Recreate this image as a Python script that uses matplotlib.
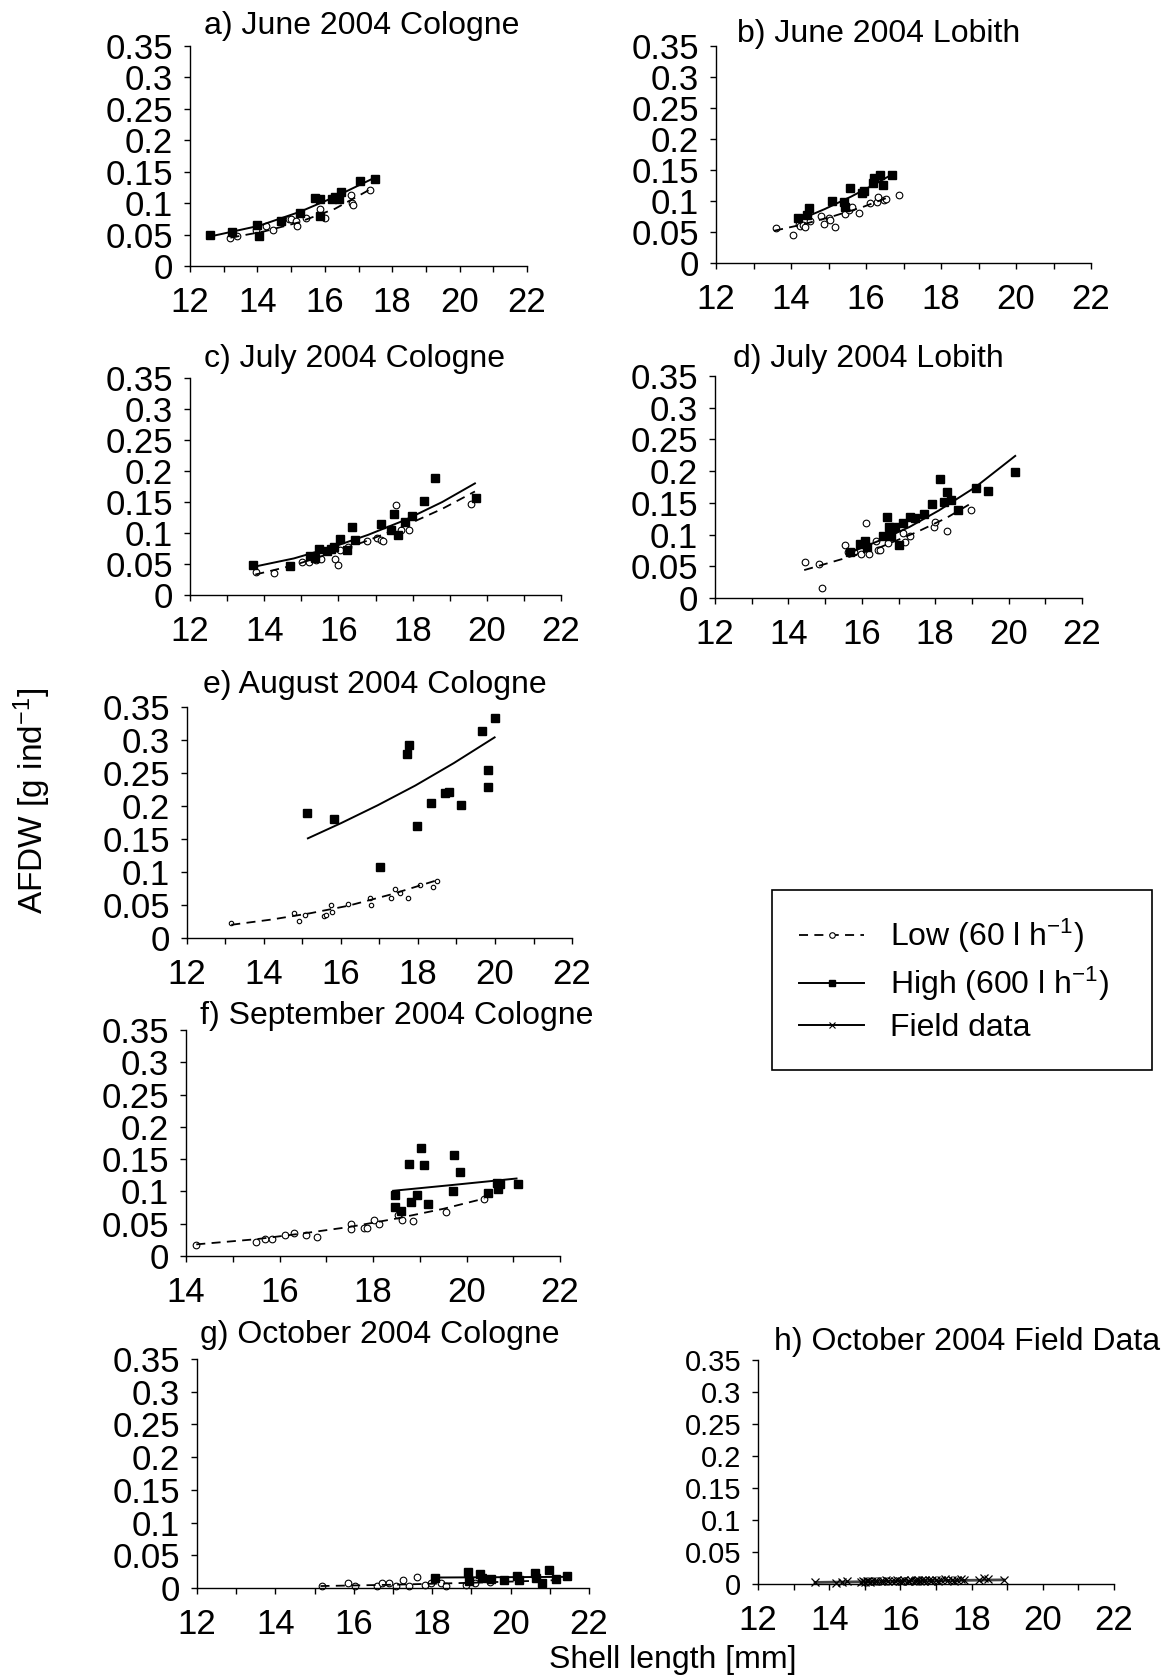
import matplotlib.pyplot as plt
from matplotlib.lines import Line2D

plt.rcParams['font.family'] = ['Liberation Sans', 'DejaVu Sans']
plt.rcParams['mathtext.fontset'] = 'custom'
plt.rcParams['mathtext.rm'] = 'Liberation Sans'
plt.rcParams['mathtext.it'] = 'Liberation Sans:italic'

W, H = 1167, 1676

# ---- a) June 2004 Cologne ----
a_low_x = [13.2, 13.38, 13.95, 14.25, 14.45, 14.95, 15.0, 15.15, 15.17, 15.45, 15.87, 16.0, 16.78, 16.8, 16.83, 17.35]
a_low_y = [0.045, 0.048, 0.057, 0.064, 0.058, 0.075, 0.074, 0.072, 0.064, 0.076, 0.091, 0.077, 0.113, 0.100, 0.097, 0.121]
a_high_x = [12.6, 13.25, 14.0, 14.05, 14.7, 15.27, 15.7, 15.85, 15.85, 16.2, 16.3, 16.43, 16.47, 17.05, 17.48]
a_high_y = [0.050, 0.054, 0.065, 0.047, 0.072, 0.085, 0.108, 0.106, 0.080, 0.106, 0.110, 0.107, 0.117, 0.136, 0.139]
a_lowfit_x = [13.2, 14.2, 15.2, 16.3, 17.35]
a_lowfit_y = [0.045, 0.055, 0.069, 0.091, 0.122]
a_highfit_x = [12.6, 14.05, 15.25, 16.3, 17.5]
a_highfit_y = [0.047, 0.064, 0.086, 0.110, 0.141]

# ---- b) June 2004 Lobith ----
b_low_x = [13.6, 14.05, 14.2, 14.25, 14.33, 14.38, 14.5, 14.8, 14.87, 15.0, 15.05, 15.17, 15.45, 15.55,
           15.63, 15.8, 16.1, 16.3, 16.33, 16.48, 16.52, 16.87]
b_low_y = [0.057, 0.045, 0.063, 0.060, 0.061, 0.058, 0.068, 0.076, 0.063, 0.072, 0.070, 0.058, 0.079, 0.085,
           0.091, 0.081, 0.097, 0.098, 0.106, 0.102, 0.104, 0.110]
b_high_x = [14.18, 14.42, 14.47, 15.08, 15.42, 15.45, 15.58, 15.9, 15.95, 16.18, 16.2, 16.37, 16.45, 16.68]
b_high_y = [0.073, 0.078, 0.089, 0.100, 0.099, 0.091, 0.121, 0.113, 0.116, 0.129, 0.137, 0.142, 0.126, 0.142]
b_lowfit_x = [13.55, 14.3, 15.1, 15.9, 16.6]
b_lowfit_y = [0.052, 0.062, 0.075, 0.090, 0.106]
b_highfit_x = [14.2, 14.9, 15.6, 16.2, 16.7]
b_highfit_y = [0.069, 0.087, 0.107, 0.126, 0.143]

# ---- c) July 2004 Cologne ----
c_low_x = [13.78, 14.27, 15.02, 15.22, 15.39, 15.53, 15.9, 15.98, 16.03, 16.27, 16.77, 17.03, 17.16, 17.21,
           17.56, 17.7, 17.9, 19.58]
c_low_y = [0.037, 0.035, 0.054, 0.054, 0.056, 0.058, 0.058, 0.049, 0.073, 0.078, 0.087, 0.092, 0.089, 0.087,
           0.145, 0.105, 0.105, 0.146]
c_high_x = [13.71, 14.7, 15.24, 15.36, 15.48, 15.68, 15.8, 15.88, 16.05, 16.23, 16.38, 16.45, 17.16, 17.41,
            17.49, 17.61, 17.8, 17.98, 18.3, 18.6, 19.7]
c_high_y = [0.048, 0.047, 0.063, 0.060, 0.074, 0.071, 0.074, 0.078, 0.091, 0.073, 0.110, 0.088, 0.115, 0.105,
            0.131, 0.096, 0.118, 0.128, 0.152, 0.189, 0.156]
c_lowfit_x = [13.76, 14.8, 15.83, 16.8, 17.8, 18.8, 19.68]
c_lowfit_y = [0.033, 0.048, 0.068, 0.088, 0.112, 0.139, 0.167]
c_highfit_x = [13.76, 14.8, 15.83, 16.8, 17.8, 18.8, 19.68]
c_highfit_y = [0.046, 0.059, 0.077, 0.097, 0.121, 0.150, 0.180]

# ---- d) July 2004 Lobith ----
d_low_x = [14.45, 14.83, 14.91, 15.53, 15.63, 15.78, 15.97, 16.11, 16.19, 16.4, 16.45, 16.5, 16.72, 17.11,
           17.17, 17.31, 17.98, 18.0, 18.31, 18.98]
d_low_y = [0.057, 0.054, 0.015, 0.083, 0.072, 0.072, 0.070, 0.119, 0.069, 0.090, 0.075, 0.075, 0.087, 0.102,
           0.088, 0.098, 0.112, 0.120, 0.105, 0.139]
d_high_x = [15.68, 15.94, 16.09, 16.14, 16.58, 16.68, 16.75, 16.79, 16.91, 17.01, 17.11, 17.31, 17.44, 17.7,
            17.9, 18.13, 18.23, 18.31, 18.43, 18.63, 19.11, 19.45, 20.18]
d_high_y = [0.072, 0.085, 0.090, 0.081, 0.098, 0.127, 0.112, 0.098, 0.112, 0.083, 0.118, 0.128, 0.126, 0.133,
            0.148, 0.187, 0.151, 0.167, 0.154, 0.138, 0.174, 0.169, 0.199]
d_lowfit_x = [14.43, 15.5, 16.5, 17.5, 18.3, 19.0]
d_lowfit_y = [0.044, 0.062, 0.080, 0.104, 0.126, 0.150]
d_highfit_x = [15.7, 16.5, 17.3, 18.1, 19.1, 20.18]
d_highfit_y = [0.072, 0.091, 0.112, 0.138, 0.175, 0.224]

# ---- e) August 2004 Cologne ----
e_low_x = [13.15, 14.77, 14.91, 15.07, 15.56, 15.6, 15.74, 15.77, 16.17, 16.75, 16.78, 17.3, 17.4, 17.53,
           17.74, 18.05, 18.38, 18.5]
e_low_y = [0.023, 0.038, 0.026, 0.035, 0.033, 0.035, 0.050, 0.039, 0.052, 0.061, 0.050, 0.061, 0.074, 0.068,
           0.060, 0.081, 0.078, 0.087]
e_high_x = [15.11, 15.83, 17.02, 17.72, 17.76, 17.98, 18.34, 18.7, 18.81, 19.11, 19.65, 19.81, 19.81, 19.99]
e_high_y = [0.189, 0.181, 0.107, 0.279, 0.292, 0.169, 0.204, 0.220, 0.221, 0.201, 0.314, 0.255, 0.229, 0.333]
e_lowfit_x = [13.15, 14.2, 15.2, 16.2, 17.3, 18.52]
e_lowfit_y = [0.020, 0.028, 0.0375, 0.049, 0.066, 0.088]
e_highfit_x = [15.14, 16.0, 16.95, 17.93, 18.93, 19.99]
e_highfit_y = [0.151, 0.174, 0.201, 0.231, 0.265, 0.304]

# ---- f) September 2004 Cologne ----
f_low_x = [14.22, 15.5, 15.7, 15.83, 16.11, 16.3, 16.57, 16.81, 17.52, 17.52, 17.81, 17.87, 18.03, 18.12,
           18.53, 18.63, 18.86, 19.56, 20.38]
f_low_y = [0.017, 0.022, 0.027, 0.027, 0.033, 0.035, 0.033, 0.029, 0.049, 0.042, 0.043, 0.044, 0.055, 0.049,
           0.063, 0.056, 0.054, 0.068, 0.089]
f_high_x = [18.47, 18.48, 18.6, 18.77, 18.82, 18.94, 19.02, 19.1, 19.18, 19.72, 19.74, 19.86, 20.45, 20.66,
            20.68, 20.72, 21.1]
f_high_y = [0.094, 0.076, 0.070, 0.143, 0.084, 0.094, 0.167, 0.141, 0.081, 0.100, 0.156, 0.130, 0.098, 0.113,
            0.103, 0.111, 0.112]
f_lowfit_x = [14.22, 15.5, 16.5, 17.5, 18.5, 19.5, 20.38]
f_lowfit_y = [0.018, 0.026, 0.035, 0.045, 0.058, 0.073, 0.089]
f_highfit_x = [18.43, 19.7, 21.07]
f_highfit_y = [0.101, 0.110, 0.120]

# ---- g) October 2004 Cologne ----
g_low_x = [15.18, 15.84, 16.04, 16.59, 16.72, 16.89, 17.08, 17.26, 17.41, 17.61, 17.81, 17.98, 18.23, 18.35,
           18.87, 19.09, 19.47]
g_low_y = [0.003, 0.007, 0.003, 0.003, 0.007, 0.007, 0.003, 0.012, 0.003, 0.017, 0.004, 0.007, 0.008, 0.003,
           0.005, 0.008, 0.009]
g_high_x = [18.08, 18.92, 18.95, 19.22, 19.27, 19.5, 19.83, 20.16, 20.21, 20.61, 20.66, 20.81, 20.99, 21.16, 21.43]
g_high_y = [0.0153, 0.0245, 0.011, 0.022, 0.015, 0.013, 0.012, 0.019, 0.012, 0.023, 0.015, 0.007, 0.027, 0.013, 0.018]
g_lowfit_x = [15.15, 17.0, 19.0, 21.2]
g_lowfit_y = [0.003, 0.005, 0.008, 0.012]
g_highfit_x = [18.03, 21.36]
g_highfit_y = [0.016, 0.017]

# ---- h) October 2004 field data ----
h_x = [13.6, 14.2, 14.35, 14.5, 14.9, 14.95, 15.0, 15.05, 15.1, 15.15,
       15.2, 15.3, 15.35, 15.45, 15.5, 15.6, 15.65, 15.75, 15.85, 15.9,
       16.0, 16.05, 16.1, 16.2, 16.25, 16.3, 16.4, 16.45, 16.5, 16.55,
       16.6, 16.65, 16.7, 16.8, 16.85, 16.9, 17.0, 17.05, 17.15, 17.25,
       17.35, 17.45, 17.5, 17.6, 17.7, 17.8, 18.2, 18.35, 18.45, 18.9]
h_y = [0.003, 0.002, 0.003, 0.004, 0.003, 0.004, 0.003, 0.004, 0.005, 0.003,
       0.004, 0.005, 0.004, 0.005, 0.004, 0.006, 0.005, 0.004, 0.005, 0.006,
       0.004, 0.005, 0.006, 0.005, 0.004, 0.006, 0.005, 0.007, 0.006, 0.004,
       0.007, 0.005, 0.006, 0.007, 0.005, 0.006, 0.007, 0.005, 0.006, 0.008,
       0.006, 0.007, 0.005, 0.007, 0.008, 0.006, 0.006, 0.009, 0.008, 0.007]
h_fit_x = [13.6, 16.2, 18.9]
h_fit_y = [0.0025, 0.0045, 0.0065]

y_ticks = [0, 0.05, 0.1, 0.15, 0.2, 0.25, 0.3, 0.35]
y_tick_labels = ['0', '0.05', '0.1', '0.15', '0.2', '0.25', '0.3', '0.35']

DASH = (0, (5, 3.5))
FS = 23      # titles, legend, axis labels
TICK_FS = 25

fig = plt.figure(figsize=(W / 100, H / 100), dpi=100)


def add_axes(l, t, r, b):
    return fig.add_axes([l / W, 1 - b / H, (r - l) / W, (b - t) / H])


def style(ax, xmin, ysize=TICK_FS):
    ax.set_xlim(xmin, 22)
    ax.set_ylim(0, 0.35)
    for s in ['top', 'right']:
        ax.spines[s].set_visible(False)
    for s in ['left', 'bottom']:
        ax.spines[s].set_linewidth(1.0)
    ticks = list(range(xmin, 23))
    ax.set_xticks(ticks)
    ax.set_xticklabels([str(t) if t % 2 == 0 else '' for t in ticks])
    ax.set_yticks(y_ticks)
    ax.set_yticklabels(y_tick_labels)
    ax.tick_params(axis='x', direction='out', length=4.5, width=1, labelsize=TICK_FS, pad=10)
    ax.tick_params(axis='y', direction='out', length=4, width=1, labelsize=ysize, pad=8)


def title(x, y, s):
    fig.text(x / W, 1 - y / H, s, ha='center', va='center', fontsize=FS)


def draw(ax, lx, ly, hx, hy, lfx, lfy, hfx, hfy, cms=4.8, sms=5.6):
    ax.plot(lx, ly, ls='none', marker='o', ms=cms, mfc='white', mec='black', mew=0.8, clip_on=False, zorder=2)
    ax.plot(hx, hy, ls='none', marker='s', ms=sms, mfc='black', mec='black', clip_on=False, zorder=2)
    ax.plot(lfx, lfy, color='black', ls=DASH, lw=1.3, zorder=3)
    ax.plot(hfx, hfy, color='black', lw=1.4, zorder=3)


ax = add_axes(190, 46, 527, 266)
style(ax, 12)
draw(ax, a_low_x, a_low_y, a_high_x, a_high_y, a_lowfit_x, a_lowfit_y, a_highfit_x, a_highfit_y)
title(362, 26, 'a) June 2004 Cologne')

ax = add_axes(716, 46, 1091, 263)
style(ax, 12)
draw(ax, b_low_x, b_low_y, b_high_x, b_high_y, b_lowfit_x, b_lowfit_y, b_highfit_x, b_highfit_y)
title(879, 34, 'b) June 2004 Lobith')

ax = add_axes(190, 378, 561, 595)
style(ax, 12)
draw(ax, c_low_x, c_low_y, c_high_x, c_high_y, c_lowfit_x, c_lowfit_y, c_highfit_x, c_highfit_y)
title(354, 359, 'c) July 2004 Cologne')

ax = add_axes(715, 376, 1082, 598)
style(ax, 12)
draw(ax, d_low_x, d_low_y, d_high_x, d_high_y, d_lowfit_x, d_lowfit_y, d_highfit_x, d_highfit_y)
title(868, 359, 'd) July 2004 Lobith')

ax = add_axes(187, 707, 572, 938)
style(ax, 12)
draw(ax, e_low_x, e_low_y, e_high_x, e_high_y, e_lowfit_x, e_lowfit_y, e_highfit_x, e_highfit_y,
     cms=3.2, sms=6.0)
title(375, 685, 'e) August 2004 Cologne')

ax = add_axes(186, 1030, 560, 1256)
style(ax, 14)
draw(ax, f_low_x, f_low_y, f_high_x, f_high_y, f_lowfit_x, f_lowfit_y, f_highfit_x, f_highfit_y)
title(397, 1016, 'f) September 2004 Cologne')

ax = add_axes(197, 1359, 589, 1588)
style(ax, 12)
draw(ax, g_low_x, g_low_y, g_high_x, g_high_y, g_lowfit_x, g_lowfit_y, g_highfit_x, g_highfit_y)
title(380, 1335, 'g) October 2004 Cologne')

ax = add_axes(758, 1360, 1114, 1584)
style(ax, 12, ysize=21)
ax.plot(h_x, h_y, ls='none', marker='x', ms=6, mec='black', mew=0.9, clip_on=False, zorder=2)
ax.plot(h_fit_x, h_fit_y, color='#444444', lw=2.0, zorder=1)
title(967, 1342, 'h) October 2004 Field Data')

# shared axis labels
fig.text(32 / W, 1 - 801 / H, 'AFDW [g ind$^{-1}$]', rotation=90, ha='center', va='center', fontsize=24)
fig.text(673 / W, 1 - 1660 / H, 'Shell length [mm]', ha='center', va='center', fontsize=FS)

handles = [
    Line2D([], [], color='black', ls=DASH, lw=1.3, marker='o', ms=4, mfc='white', mec='black', mew=0.8),
    Line2D([], [], color='black', lw=1.4, marker='s', ms=4.5, mfc='black', mec='black'),
    Line2D([], [], color='black', lw=1.4, marker='x', ms=5, mec='black', mew=0.8),
]
labels = ['Low (60 l h$^{-1}$)', 'High (600 l h$^{-1}$)', 'Field data']
leg = fig.legend(handles, labels, loc='upper left',
                 bbox_to_anchor=(772 / W, 1 - 1067 / H, 380 / W, 177 / H), mode='expand',
                 borderaxespad=0, fontsize=FS, numpoints=1, handlelength=2.04, handletextpad=0.8,
                 labelspacing=0.3, borderpad=0.85, fancybox=False, framealpha=1)
leg.get_frame().set_edgecolor('black')
leg.get_frame().set_linewidth(1.2)

fig.savefig('out.png', dpi=100)
